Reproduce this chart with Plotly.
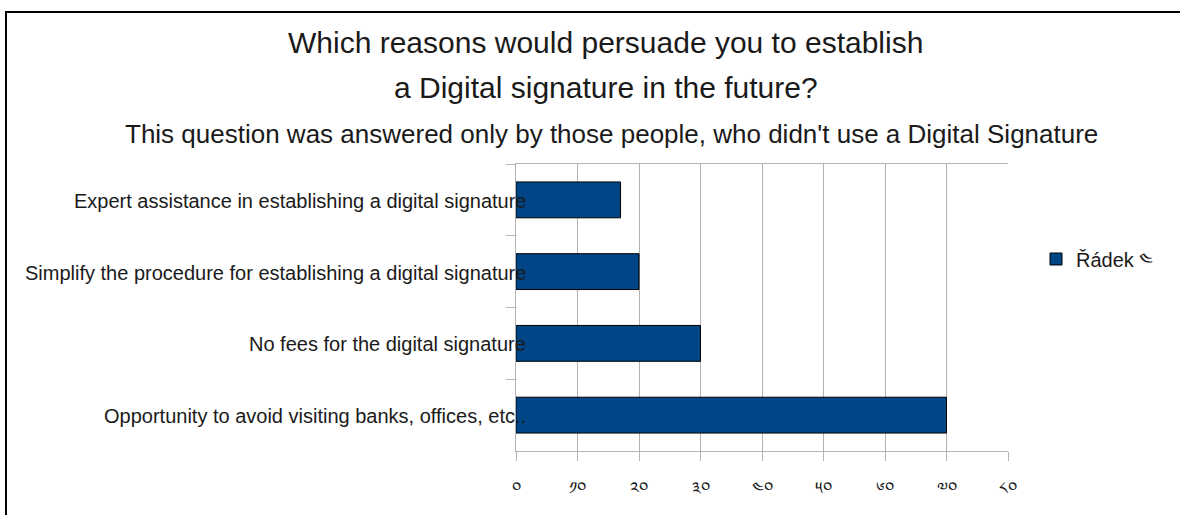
import plotly.graph_objects as go

# Survey answers, listed top to bottom as drawn
categories = [
    "Expert assistance in establishing a digital signature",
    "Simplify the procedure for establishing a digital signature",
    "No fees for the digital signature",
    "Opportunity to avoid visiting banks, offices, etc..",
]
values = [17, 20, 30, 70]
series_name = "Řádek ༤"

# Axis ticks with Tibetan numerals
tick_values = [0, 10, 20, 30, 40, 50, 60, 70, 80]
tick_labels = ["༠", "༡༠", "༢༠", "༣༠", "༤༠", "༥༠", "༦༠", "༧༠", "༨༠"]

title_line1 = "Which reasons would persuade you to establish"
title_line2 = "a Digital signature in the future?"
subtitle = "This question was answered only by those people, who didn't use a Digital Signature"

W, H = 1180, 515
L, R, T, B = 516, 172, 164, 64
pw, ph = W - L - R, H - T - B


def px_x(x):
    return (x - L) / pw


def px_y(y):
    return (H - B - y) / ph


FONT = "Liberation Sans, Arial, sans-serif"
GRID = "#b3b3b3"
TEXT = "#1a1a1a"

fig = go.Figure()
fig.add_trace(go.Bar(
    x=values,
    y=categories,
    orientation="h",
    name=series_name,
    marker=dict(color="#004586", line=dict(color="#000000", width=1)),
    showlegend=True,
))

annotations = []
for cat in categories:
    annotations.append(dict(
        x=0, y=cat, xref="x", yref="y", text=cat, showarrow=False,
        xanchor="right", yanchor="middle", xshift=12, yshift=-1,
        font=dict(family=FONT, size=20, color=TEXT),
    ))

annotations += [
    dict(x=px_x(605), y=px_y(43), xref="paper", yref="paper", text=title_line1,
         showarrow=False, xanchor="center", yanchor="middle",
         font=dict(family=FONT, size=30, color=TEXT)),
    dict(x=px_x(606), y=px_y(87), xref="paper", yref="paper", text=title_line2,
         showarrow=False, xanchor="center", yanchor="middle",
         font=dict(family=FONT, size=30, color=TEXT)),
    dict(x=px_x(611), y=px_y(134), xref="paper", yref="paper", text=subtitle,
         showarrow=False, xanchor="center", yanchor="middle",
         font=dict(family=FONT, size=26, color=TEXT)),
]

shapes = [
    # outer frame: left and top edges
    dict(type="line", xref="paper", yref="paper",
         x0=px_x(6), x1=px_x(6), y0=px_y(11), y1=px_y(520),
         line=dict(color="#000000", width=2)),
    dict(type="line", xref="paper", yref="paper",
         x0=px_x(5), x1=px_x(1185), y0=px_y(12), y1=px_y(12),
         line=dict(color="#000000", width=2)),
]

fig.update_layout(
    width=W, height=H,
    margin=dict(l=L, r=R, t=T, b=B),
    paper_bgcolor="white", plot_bgcolor="white",
    bargap=0.5,
    annotations=annotations,
    shapes=shapes,
    legend=dict(
        x=px_x(1036), y=px_y(259), xanchor="left", yanchor="middle",
        font=dict(family=FONT, size=20, color=TEXT),
        bgcolor="rgba(0,0,0,0)",
    ),
    xaxis=dict(
        range=[0, 80],
        tickmode="array", tickvals=tick_values, ticktext=tick_labels,
        showgrid=True, gridcolor=GRID, gridwidth=1,
        showline=True, linecolor=GRID, linewidth=1, mirror=True,
        ticks="outside", ticklen=9, tickcolor=GRID,
        ticklabelstandoff=13,
        tickfont=dict(family=FONT, size=17, color=TEXT),
        zeroline=False, fixedrange=True,
    ),
    yaxis=dict(
        autorange="reversed",
        showticklabels=False,
        tickson="boundaries",
        ticks="outside", ticklen=9, tickcolor=GRID,
        showline=True, linecolor=GRID, linewidth=1,
        showgrid=False, zeroline=False, fixedrange=True,
    ),
)

fig.write_html("out.html")
